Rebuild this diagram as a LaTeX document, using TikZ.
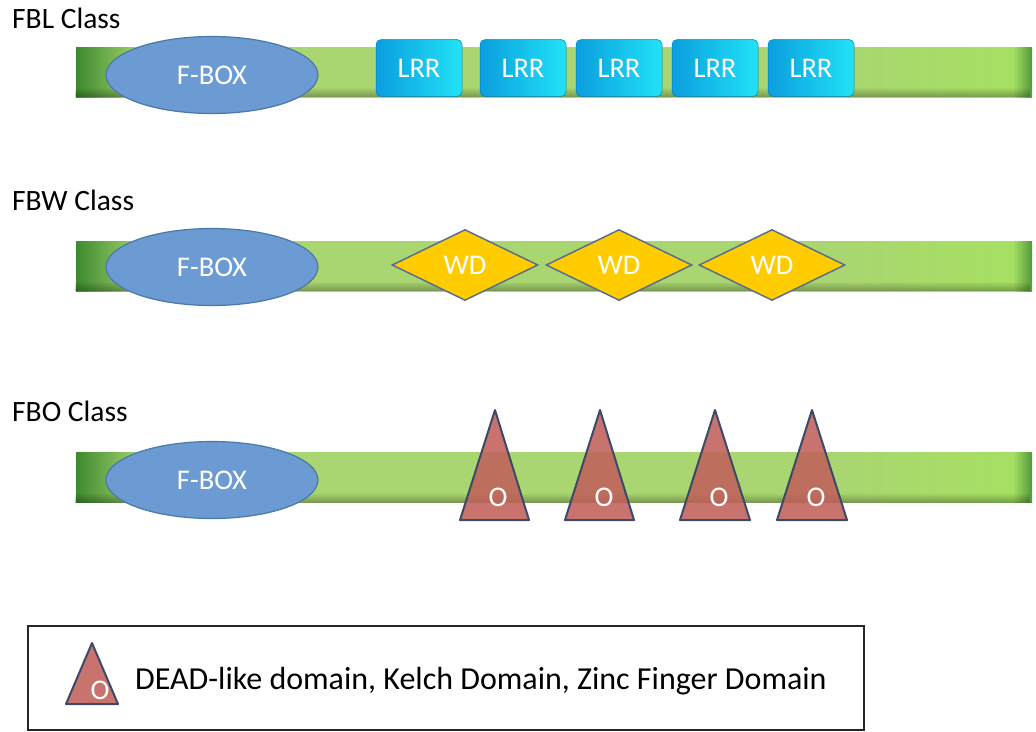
\documentclass[tikz,border=0pt]{standalone}
\usepackage{fontspec}
\setmainfont{Carlito}
\usepackage{tikz}
\usetikzlibrary{shapes.geometric, fadings, positioning}

\definecolor{bardark}{HTML}{3D8A2E}
\definecolor{barlight}{HTML}{A9D670}
\definecolor{barbright}{HTML}{A6E062}
\definecolor{fboxblue}{HTML}{6B9BD2}
\definecolor{fboxline}{HTML}{4A78A8}
\definecolor{lrrdark}{HTML}{0A9EDF}
\definecolor{lrrlight}{HTML}{22E2F6}
\definecolor{wdyellow}{HTML}{FFCC00}
\definecolor{domline}{HTML}{5B6F8A}
\definecolor{odomred}{HTML}{C0605A}
\definecolor{odomline}{HTML}{3B4A66}

\pgfdeclarehorizontalshading{barshade}{100bp}{color(0bp)=(bardark); color(25bp)=(bardark); color(28.5bp)=(barlight); color(65bp)=(barlight); color(74bp)=(barbright); color(75bp)=(bardark!80!barlight); color(100bp)=(bardark!80!barlight)}

\begin{document}
\begin{tikzpicture}[x=1pt,y=-1pt,
  lbl/.style={anchor=west,inner sep=0,font=\fontsize{29.5}{32}\selectfont},
  bar/.style={rectangle,shading=barshade,
    minimum width=956,minimum height=50,inner sep=0},
  fbox/.style={ellipse,fill=fboxblue,draw=fboxline,line width=1.2,
    minimum width=212,minimum height=77,inner sep=0,text=white,
    font=\fontsize{28.5}{30}\selectfont},
  lrr/.style={rectangle,rounded corners=5,left color=lrrdark,right color=lrrlight,
    draw=lrrdark!80!black,line width=0.5,minimum width=86,minimum height=57,inner sep=0,
    text=white,font=\fontsize{28.5}{30}\selectfont},
  wd/.style={diamond,fill=wdyellow,draw=domline,line width=1.5,
    minimum width=146,minimum height=71,inner sep=0,text=white,
    font=\fontsize{28.5}{30}\selectfont},
  odom/.style={fill=odomred,fill opacity=0.88,draw=odomline,line width=2,line join=round},
  otext/.style={inner sep=0,text=white,font=\fontsize{28.5}{30}\selectfont},
  legendbox/.style={draw=black!85,line width=1.6,minimum width=836,minimum height=104,inner sep=0}]
\useasboundingbox (0,0) rectangle (1036,731);

% FBL class
\node[lbl] (fbl) at (12,18) {FBL Class};
\node[bar] (bar1) at (554,72) {};
\fill[black,opacity=0.3,path fading=north] (bar1.south west) rectangle ([yshift=10]bar1.south east);
\node[fbox] (fb1) at (212,75) {F-BOX};
\node[lrr] (lrr1) at (419,68) {LRR};
\node[lrr] (lrr2) at (523,68) {LRR};
\node[lrr] (lrr3) at (619,68) {LRR};
\node[lrr] (lrr4) at (715,68) {LRR};
\node[lrr] (lrr5) at (811,68) {LRR};

% FBW class
\node[lbl] (fbw) at (12,200) {FBW Class};
\node[bar] (bar2) at (554,266) {};
\fill[black,opacity=0.3,path fading=north] (bar2.south west) rectangle ([yshift=10]bar2.south east);
\node[fbox] (fb2) at (212,267) {F-BOX};
\node[wd] (wd1) at (465,265) {WD};
\node[wd] (wd2) at (619,265) {WD};
\node[wd] (wd3) at (772,265) {WD};

% FBO class
\node[lbl] (fbo) at (12,411) {FBO Class};
\node[bar] (bar3) at (554,477.5) {};
\fill[black,opacity=0.3,path fading=north] (bar3.south west) rectangle ([yshift=10]bar3.south east);
\node[fbox] (fb3) at (212,480) {F-BOX};
\draw[odom] (495,410) -- (529,520) -- (460,520) -- cycle;
\draw[odom] (600,410) -- (634,520) -- (565,520) -- cycle;
\draw[odom] (715,410) -- (750,520) -- (680,520) -- cycle;
\draw[odom] (812,410) -- (847,520) -- (777,520) -- cycle;
\node[otext] (o1) at (498,497) {O};
\node[otext] (o2) at (604,497) {O};
\node[otext] (o3) at (719,497) {O};
\node[otext] (o4) at (816,497) {O};

% legend
\node[legendbox] (legend) at (446,678) {};
\draw[odom] (92,643) -- (118,704) -- (66,704) -- cycle;
\node[otext] (olegend) at (100,690) {O};
\node[lbl,font=\fontsize{32}{34}\selectfont] (legendtext) at (135,681) {DEAD-like domain, Kelch Domain, Zinc Finger Domain};
\end{tikzpicture}
\end{document}
